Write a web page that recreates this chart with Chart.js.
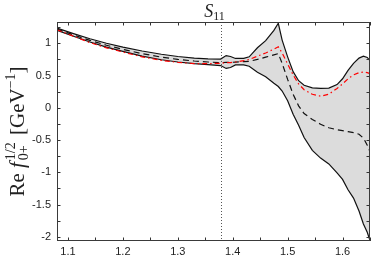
<!DOCTYPE html>
<html lang="en">
<head>
  <meta charset="UTF-8">
  <title>S11</title>
  <script src="https://cdn.jsdelivr.net/npm/chart.js"></script>
  <style>
    html, body { margin: 0; padding: 0; background: #fff; }
    canvas { display: block; }
  </style>
</head>
<body>
  <canvas id="chart" width="374" height="257"></canvas>

  <script>
    // energy W [GeV] shared by all curves
    const energia = [1.08, 1.11, 1.14, 1.17, 1.20, 1.235, 1.27, 1.30, 1.33, 1.355, 1.378, 1.388, 1.396, 1.405,
      1.42, 1.43, 1.445, 1.46, 1.475, 1.483, 1.49, 1.50, 1.51, 1.52, 1.53, 1.545, 1.56, 1.575, 1.59, 1.60,
      1.61, 1.62, 1.63, 1.638, 1.645, 1.65];

    // error band edges
    const bandaSup = [1.235, 1.15, 1.07, 1.00, 0.94, 0.88, 0.83, 0.795, 0.77, 0.758, 0.755, 0.81, 0.795, 0.765,
      0.765, 0.79, 0.93, 1.04, 1.20, 1.31, 1.05, 0.79, 0.56, 0.42, 0.35, 0.31, 0.30, 0.305, 0.36, 0.45,
      0.58, 0.69, 0.77, 0.80, 0.78, 0.73];
    const bandaInf = [1.20, 1.11, 1.02, 0.94, 0.875, 0.80, 0.745, 0.71, 0.685, 0.67, 0.655, 0.61, 0.625, 0.665,
      0.665, 0.645, 0.55, 0.48, 0.38, 0.33, 0.26, 0.11, -0.10, -0.27, -0.46, -0.66, -0.78, -0.87, -1.01, -1.11,
      -1.27, -1.40, -1.60, -1.80, -1.93, -2.06];

    // central fit (black dashed) and comparison (red dash-dot)
    const ajusteCentral = [1.22, 1.13, 1.045, 0.97, 0.905, 0.84, 0.785, 0.75, 0.725, 0.71, 0.70, 0.705, 0.705, 0.708,
      0.715, 0.72, 0.75, 0.785, 0.82, 0.84, 0.69, 0.44, 0.21, 0.03, -0.09, -0.18, -0.255, -0.31, -0.34, -0.355,
      -0.37, -0.385, -0.41, -0.47, -0.58, -0.68];
    const comparacion = [1.21, 1.11, 1.01, 0.93, 0.865, 0.79, 0.735, 0.705, 0.685, 0.685, 0.69, 0.70, 0.70, 0.71,
      0.73, 0.75, 0.80, 0.85, 0.91, 0.945, 0.85, 0.68, 0.51, 0.37, 0.28, 0.21, 0.18, 0.21, 0.30, 0.37,
      0.45, 0.51, 0.545, 0.555, 0.545, 0.53];

    const umbral = 1.378;          // dotted vertical line
    const rangoX = [1.08, 1.65];
    const rangoY = [-2.065, 1.33];
    const pasoX = 0.05, pasoY = 0.25;   // tick spacing (labels every 0.1 / 0.5)

    const serif = '"Liberation Serif", "DejaVu Serif", serif';
    const fuente = (size, italic) => (italic ? 'italic ' : '') + size + 'px ' + serif;
    const puntos = ys => energia.map((x, i) => ({ x: x, y: ys[i] }));
    const esMultiplo = (v, m) => Math.abs(v / m - Math.round(v / m)) < 1e-6;

    function etiquetaY(ctx, cx, cy) {
      const g = 21, p = 14;
      ctx.save();
      ctx.translate(cx, cy);
      ctx.rotate(-Math.PI / 2);
      ctx.fillStyle = '#222';
      ctx.textBaseline = 'alphabetic';
      const w = (t, f) => { ctx.font = f; return ctx.measureText(t).width; };
      const wRe = w('Re ', fuente(g)), wf = w('f', fuente(g, true));
      const wScr = Math.max(w('1/2', fuente(p)), w('0+', fuente(p)));
      const wGeV = w(' [GeV', fuente(g)), wM = w('\u22121', fuente(p)), wC = w(']', fuente(g));
      const total = wRe + wf + 2 + wScr + 2 + wGeV + wM + wC;
      let x = -total / 2;
      const base = 7;
      ctx.font = fuente(g); ctx.fillText('Re ', x, base); x += wRe;
      ctx.font = fuente(g, true); ctx.fillText('f', x, base); x += wf + 2;
      ctx.font = fuente(p); ctx.fillText('1/2', x, base - 9); ctx.fillText('0+', x, base + 4); x += wScr + 2;
      ctx.font = fuente(g); ctx.fillText(' [GeV', x, base); x += wGeV;
      ctx.font = fuente(p); ctx.fillText('\u22121', x, base - 9); x += wM;
      ctx.font = fuente(g); ctx.fillText(']', x, base);
      ctx.restore();
    }

    const marco = {
      id: 'marco',
      beforeDatasetsDraw(chart) {
        const { ctx, chartArea: a, scales: { x } } = chart;
        const px = Math.round(x.getPixelForValue(umbral)) + 0.5;
        ctx.save();
        ctx.strokeStyle = '#555';
        ctx.lineWidth = 1;
        ctx.setLineDash([1, 2]);
        ctx.beginPath();
        ctx.moveTo(px, a.top);
        ctx.lineTo(px, a.bottom);
        ctx.stroke();
        ctx.restore();
      },
      afterDraw(chart) {
        const { ctx, chartArea: a, scales: { x, y } } = chart;
        const t = 3.5;
        ctx.save();
        ctx.strokeStyle = '#333';
        ctx.lineWidth = 1;
        // inward ticks on all four sides
        ctx.beginPath();
        x.ticks.forEach(tk => {
          const px = Math.round(x.getPixelForValue(tk.value)) + 0.5;
          ctx.moveTo(px, a.bottom); ctx.lineTo(px, a.bottom - t);
          ctx.moveTo(px, a.top); ctx.lineTo(px, a.top + t);
        });
        y.ticks.forEach(tk => {
          const py = Math.round(y.getPixelForValue(tk.value)) + 0.5;
          ctx.moveTo(a.left, py); ctx.lineTo(a.left + t, py);
          ctx.moveTo(a.right, py); ctx.lineTo(a.right - t, py);
        });
        ctx.stroke();
        ctx.strokeStyle = '#3a3a3a';
        ctx.strokeRect(Math.round(a.left) + 0.5, Math.round(a.top) + 0.5,
          Math.round(a.right - a.left) - 1, Math.round(a.bottom - a.top) - 1);

        // title S_11
        ctx.fillStyle = '#222';
        ctx.textBaseline = 'alphabetic';
        ctx.font = fuente(18, true);
        const wS = ctx.measureText('S').width;
        ctx.font = fuente(12);
        const w11 = ctx.measureText('11').width;
        const x0 = (a.left + a.right) / 2 - (wS + w11) / 2 + 1;
        ctx.font = fuente(18, true); ctx.fillText('S', x0, 17);
        ctx.font = fuente(12); ctx.fillText('11', x0 + wS, 19.5);

        etiquetaY(ctx, 17, (a.top + a.bottom) / 2);
        ctx.restore();
      }
    };

    const fuenteTicks = { family: '"Liberation Sans", Arial, sans-serif', size: 11 };

    new Chart(document.getElementById('chart'), {
      type: 'line',
      data: {
        datasets: [
          { data: puntos(bandaSup), borderColor: '#111', borderWidth: 1.2, backgroundColor: '#dcdcdc', fill: '+1', order: 3 },
          { data: puntos(bandaInf), borderColor: '#111', borderWidth: 1.2, fill: false, order: 2 },
          { data: puntos(ajusteCentral), borderColor: '#111', borderWidth: 1.2, borderDash: [6, 4], fill: false, order: 1 },
          { data: puntos(comparacion), borderColor: '#f00', borderWidth: 1.2, borderDash: [5, 3, 1.5, 3], fill: false, order: 0 }
        ]
      },
      plugins: [marco],
      options: {
        responsive: false,
        animation: false,
        devicePixelRatio: 1,
        layout: { padding: { top: 22, right: 1.5, left: 0, bottom: 0 } },
        elements: { point: { radius: 0 }, line: { tension: 0 } },
        plugins: {
          legend: { display: false },
          tooltip: { enabled: false },
          filler: { drawTime: 'beforeDatasetsDraw' }
        },
        scales: {
          x: {
            type: 'linear',
            min: rangoX[0], max: rangoX[1],
            grid: { display: false, drawTicks: false },
            border: { display: false },
            ticks: {
              stepSize: pasoX, includeBounds: false, autoSkip: false, maxRotation: 0,
              padding: 4, color: '#222', font: fuenteTicks,
              callback: v => esMultiplo(v, 0.1) ? (Math.round(v * 10) / 10).toString() : ''
            },
            afterFit: s => { s.height = 16; }
          },
          y: {
            type: 'linear',
            min: rangoY[0], max: rangoY[1],
            grid: { display: false, drawTicks: false },
            border: { display: false },
            ticks: {
              stepSize: pasoY, includeBounds: false, autoSkip: false,
              padding: 6, color: '#222', font: fuenteTicks,
              callback: v => esMultiplo(v, 0.5) ? (Math.round(v * 10) / 10).toString() : ''
            },
            afterFit: s => { s.width = 57; }
          }
        }
      }
    });
  </script>
</body>
</html>
